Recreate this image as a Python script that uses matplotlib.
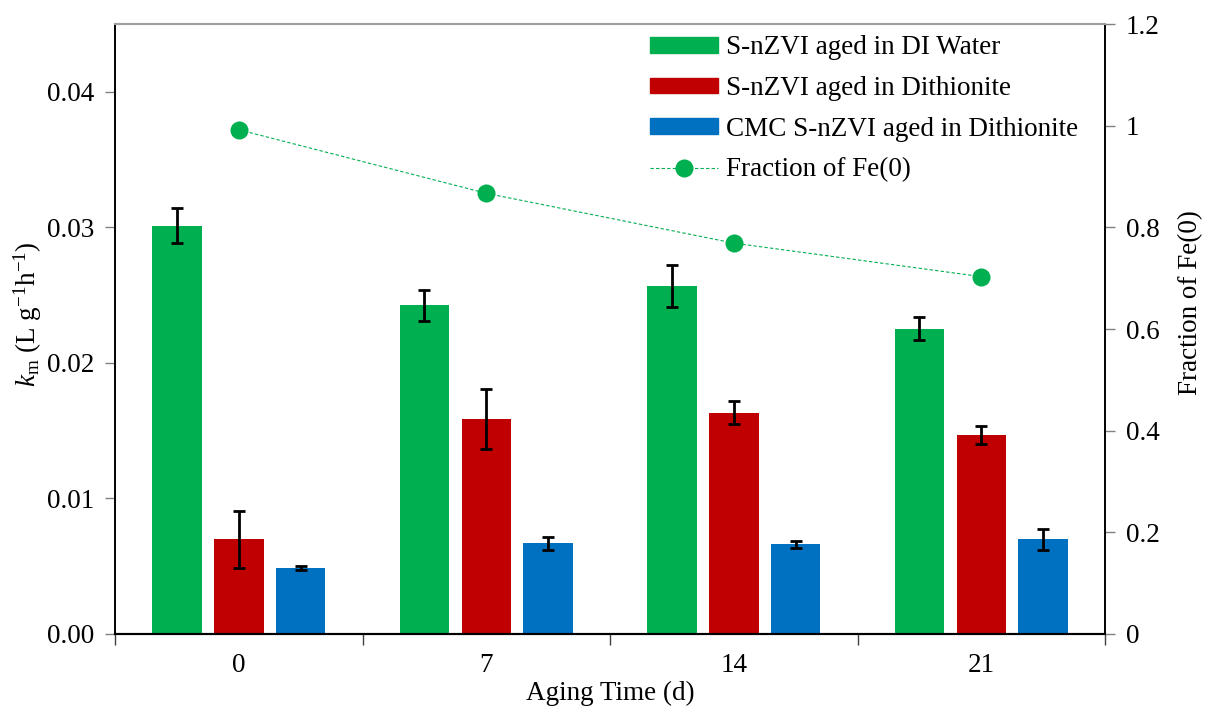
import numpy as np
import matplotlib
matplotlib.use("Agg")
import matplotlib.pyplot as plt
from matplotlib.patches import Patch
from matplotlib.lines import Line2D

plt.rcParams['font.family'] = ['Liberation Serif', 'DejaVu Serif']
plt.rcParams['mathtext.fontset'] = 'custom'
plt.rcParams['mathtext.rm'] = 'Liberation Serif'
plt.rcParams['mathtext.it'] = 'Liberation Serif:italic'


# data
aging_days = ['0', '7', '14', '21']
km_di_water = [0.03013, 0.02424, 0.02566, 0.02252]
km_di_water_err = [0.00129, 0.00113, 0.00157, 0.00083]
km_dithionite = [0.00698, 0.01589, 0.01633, 0.01466]
km_dithionite_err = [0.00211, 0.00222, 0.00087, 0.00066]
km_cmc = [0.00486, 0.00668, 0.00661, 0.00698]
km_cmc_err = [0.00012, 0.00045, 0.00026, 0.00076]
fe0_fraction = [0.992, 0.867, 0.769, 0.703]

green = '#00B050'
red = '#C00000'
blue = '#0070C0'
fs = 19.5

fig = plt.figure(figsize=(12.06, 7.09), dpi=100)
ax = fig.add_axes([0.0954, 0.1058, 0.8209, 0.8603])
ax2 = ax.twinx()

x = np.arange(len(aging_days)) + 0.5
w = 0.2
err_kw = dict(ecolor='black', elinewidth=2, capsize=4.5, capthick=2)

ax.bar(x - 0.25, km_di_water, w, yerr=km_di_water_err, color=green, error_kw=err_kw, zorder=2)
ax.bar(x, km_dithionite, w, yerr=km_dithionite_err, color=red, error_kw=err_kw, zorder=2)
ax.bar(x + 0.25, km_cmc, w, yerr=km_cmc_err, color=blue, error_kw=err_kw, zorder=2)

ax2.plot(x, fe0_fraction, linestyle=(0, (3, 2)), linewidth=0.8, color=green,
         marker='o', markersize=13, markeredgewidth=0)

ax.set_xlim(0, len(aging_days))
ax.set_ylim(0, 0.045)
ax2.set_ylim(0, 1.2)

ax.set_yticks([0, 0.01, 0.02, 0.03, 0.04])
ax.set_yticklabels(['0.00', '0.01', '0.02', '0.03', '0.04'])
ax2.set_yticks([0, 0.2, 0.4, 0.6, 0.8, 1.0, 1.2])
ax2.set_yticklabels(['0', '0.2', '0.4', '0.6', '0.8', '1', '1.2'])

# x ticks sit on the category boundaries, labels in the middle
ax.set_xticks(np.arange(len(aging_days) + 1))
ax.set_xticklabels([])
ax.set_xticks(x, minor=True)
ax.set_xticklabels(aging_days, minor=True)
ax.tick_params(axis='x', which='minor', length=0, pad=14, labelsize=fs)
ax.tick_params(axis='x', which='major', length=8, width=1, color='#404040')

ax.tick_params(axis='y', length=7, width=1, color='#808080', labelsize=fs, pad=8)
ax2.tick_params(axis='y', length=7, width=1, color='#808080', labelsize=fs, pad=8)

for a in (ax, ax2):
    a.spines['top'].set_color('#a0a0a0')
    a.spines['top'].set_linewidth(1.5)
    a.spines['left'].set_linewidth(1.2)
    a.spines['right'].set_linewidth(1.2)
    a.spines['bottom'].set_linewidth(1.5)

ax.set_xlabel('Aging Time (d)', fontsize=fs, labelpad=2)
ax.set_ylabel(r'$k_\mathrm{m}$ (L g$^{\mathrm{-1}}$h$^{\mathrm{-1}}$)', fontsize=fs)
ax2.set_ylabel('Fraction of Fe(0)', fontsize=fs)
ax.yaxis.set_label_coords(-0.072, 0.525)
ax2.yaxis.set_label_coords(1.074, 0.544)

handles = [
    Patch(color=green, label='S-nZVI aged in DI Water'),
    Patch(color=red, label='S-nZVI aged in Dithionite'),
    Patch(color=blue, label='CMC S-nZVI aged in Dithionite'),
    Line2D([], [], linestyle=(0, (3, 2)), linewidth=0.8, color=green, marker='o',
           markersize=13, markeredgewidth=0, label='Fraction of Fe(0)'),
]
ax2.legend(handles=handles, loc='upper right', bbox_to_anchor=(0.984, 0.999), frameon=False,
           fontsize=fs, handlelength=2.5, handleheight=0.52, handletextpad=0.3,
           labelspacing=0.58, borderaxespad=0)

fig.savefig('out.png', dpi=100)
